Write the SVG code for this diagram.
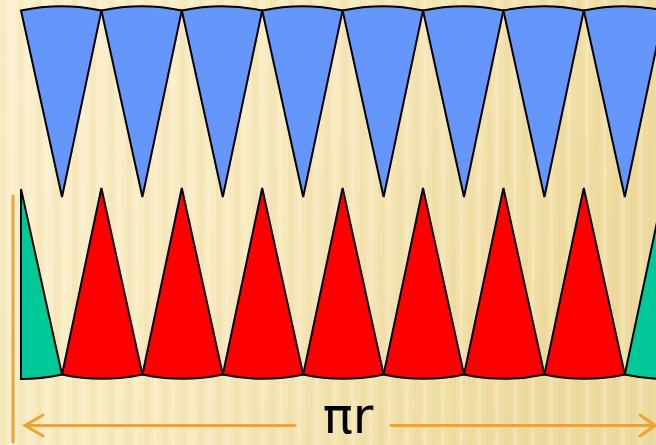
<svg xmlns="http://www.w3.org/2000/svg" width="656" height="445" viewBox="0 0 656 445">
<defs>
<linearGradient id="bg" x1="0" y1="0" x2="1" y2="0.3">
<stop offset="0" stop-color="#FBF1CF"/>
<stop offset="0.5" stop-color="#F7E9BE"/>
<stop offset="1" stop-color="#EEDB9F"/>
</linearGradient>
<pattern id="stripes" width="18" height="445" patternUnits="userSpaceOnUse">
<rect x="0" y="0" width="6" height="445" fill="#E8D08A" opacity="0.18"/>
<rect x="9" y="0" width="4" height="445" fill="#FFF8E0" opacity="0.25"/>
</pattern>
</defs>
<style>
.blue{fill:#6496FC;stroke:#000;stroke-width:2;stroke-linejoin:miter}
.red{fill:#FF0000;stroke:#000;stroke-width:2}
.green{fill:#00C896;stroke:#000;stroke-width:2}
.orange{stroke:#F0A232;stroke-width:3;fill:none;stroke-linecap:round}
.lbl{font-family:"DejaVu Sans","Liberation Sans",sans-serif;font-size:50px;fill:#000}
</style>
<rect width="656" height="445" fill="url(#bg)"/>
<rect width="656" height="445" fill="url(#stripes)"/>
<g id="blue-wedges">
<path class="blue" d="M62,197 L21,10.5 A190 190 0 0 1 101.4,10.5 Z"/>
<path class="blue" d="M142.4,197 L101.4,10.5 A190 190 0 0 1 181.8,10.5 Z"/>
<path class="blue" d="M222.8,197 L181.8,10.5 A190 190 0 0 1 262.2,10.5 Z"/>
<path class="blue" d="M303.2,197 L262.2,10.5 A190 190 0 0 1 342.6,10.5 Z"/>
<path class="blue" d="M383.6,197 L342.6,10.5 A190 190 0 0 1 423,10.5 Z"/>
<path class="blue" d="M464,197 L423,10.5 A190 190 0 0 1 503.4,10.5 Z"/>
<path class="blue" d="M544.4,197 L503.4,10.5 A190 190 0 0 1 583.8,10.5 Z"/>
<path class="blue" d="M624.8,197 L583.8,10.5 A190 190 0 0 1 664.2,10.5 Z"/>
</g>
<g id="green-left">
<path class="green" d="M21,189 L62,374.5 A190 190 0 0 1 21,379 Z"/>
</g>
<g id="red-wedges">
<path class="red" d="M101.4,188 L142.4,374.5 A190 190 0 0 1 62,374.5 Z"/>
<path class="red" d="M181.8,188 L222.8,374.5 A190 190 0 0 1 142.4,374.5 Z"/>
<path class="red" d="M262.2,188 L303.2,374.5 A190 190 0 0 1 222.8,374.5 Z"/>
<path class="red" d="M342.6,188 L383.6,374.5 A190 190 0 0 1 303.2,374.5 Z"/>
<path class="red" d="M423,188 L464,374.5 A190 190 0 0 1 383.6,374.5 Z"/>
<path class="red" d="M503.4,188 L544.4,374.5 A190 190 0 0 1 464,374.5 Z"/>
<path class="red" d="M583.8,188 L624.8,374.5 A190 190 0 0 1 544.4,374.5 Z"/>
</g>
<g id="green-right">
<path class="green" d="M664.2,188 L624.8,374.5 A190 190 0 0 0 664.2,379 Z"/>
</g>
<g id="connectors">
<line class="orange" x1="13" y1="196" x2="13" y2="442"/>
<line class="orange" x1="25" y1="425.5" x2="295" y2="425.5"/>
<polyline class="orange" points="43,415 25,425.5 43,436"/>
<line class="orange" x1="391" y1="425.5" x2="654" y2="425.5"/>
<polyline class="orange" points="640,415 655,425.5 640,436"/>
</g>
<g id="label">
<text class="lbl" x="348" y="433" text-anchor="middle">πr</text>
</g>
</svg>
